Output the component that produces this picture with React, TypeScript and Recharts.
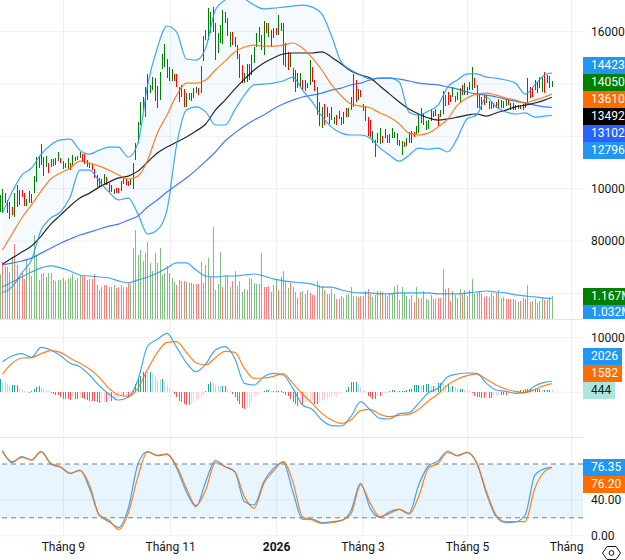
import React from "react";
import { ComposedChart, Bar, Line, Area, Cell, XAxis, YAxis, CartesianGrid, ReferenceArea, ReferenceLine } from "recharts";

// Prices are in thousands, volumes in millions.
const highs = [
  97.6,99.9,98.3,95.7,94.9,93.0,98.3,101.4,99.5,99.5,
  98.3,96.0,99.1,97.9,104.8,112.1,112.1,117.0,112.1,112.5,
  109.8,111.3,111.3,111.7,114.0,111.7,110.5,109.8,111.7,109.8,
  112.8,112.1,112.5,114.0,113.2,113.2,110.9,109.8,109.4,107.5,
  105.2,104.1,103.7,105.6,104.4,102.1,101.4,99.9,100.2,100.2,
  102.9,104.1,103.7,102.9,103.7,109.8,117.4,125.4,133.1,135.0,
  138.8,143.8,139.6,142.6,142.2,139.2,144.5,151.4,155.2,149.5,
  146.4,145.7,143.8,143.8,138.8,139.6,138.0,136.5,136.5,136.5,
  138.4,138.8,138.4,146.8,158.3,160.5,168.9,167.4,169.3,163.2,
  159.4,162.5,168.2,167.4,165.1,159.8,159.8,157.9,154.8,151.4,
  147.2,144.1,147.6,147.6,151.0,154.1,159.4,161.7,158.6,164.0,
  163.2,163.2,160.5,161.3,161.3,166.3,163.2,163.2,155.6,152.2,
  151.8,146.0,145.3,144.1,144.1,141.5,141.5,140.3,149.1,146.4,
  141.5,138.8,133.1,131.2,132.3,131.2,128.9,131.2,127.3,128.1,
  129.6,127.3,129.2,130.8,130.8,135.0,143.8,141.5,138.0,137.6,
  132.3,131.5,127.3,126.2,122.0,118.6,121.2,123.1,120.1,122.8,
  120.5,120.9,123.1,121.6,121.2,118.6,118.2,117.8,119.3,121.6,
  122.0,121.6,123.9,128.5,130.8,128.9,125.8,126.2,130.4,129.6,
  130.4,128.5,130.0,137.3,135.7,136.9,135.7,138.8,135.4,136.9,
  138.4,139.6,140.3,138.8,140.7,146.4,142.2,139.6,135.7,135.0,
  135.7,135.7,133.4,133.1,132.7,133.1,134.2,133.8,133.4,134.2,
  133.8,132.7,132.7,131.9,131.9,131.9,132.3,133.1,142.2,138.8,
  138.4,141.5,140.7,142.6,142.6,144.5,143.4,143.0,141.1,
];
const lows = [
  91.1,90.7,94.5,90.7,88.4,89.9,89.2,93.0,93.8,96.8,
  93.4,93.4,94.5,94.5,98.3,102.5,107.9,109.0,104.8,108.3,
  106.0,108.3,108.6,109.0,110.5,109.8,107.5,107.9,107.5,107.1,
  109.0,110.5,110.9,111.7,110.2,109.4,108.3,107.9,107.1,104.1,
  100.6,100.6,101.0,101.4,101.4,98.7,98.7,97.9,98.3,98.3,
  99.1,101.8,101.4,101.0,101.4,99.9,110.9,117.4,124.3,130.0,
  127.3,133.8,136.5,137.6,133.4,130.8,133.8,145.7,146.4,142.2,
  141.1,141.1,141.1,138.8,133.1,135.0,131.2,131.2,133.8,133.4,
  134.6,136.5,135.7,136.5,148.7,156.7,156.7,159.4,159.8,149.1,
  151.8,155.6,155.2,163.2,158.3,154.1,154.8,154.1,149.5,142.2,
  140.3,140.3,140.7,141.5,143.4,148.0,154.1,156.0,152.9,151.0,
  159.4,157.9,154.1,157.5,158.6,158.6,160.2,147.2,146.4,145.3,
  146.4,140.7,136.9,138.4,138.8,137.6,137.3,138.4,139.6,140.7,
  137.3,128.1,123.9,123.1,124.3,127.3,124.7,126.2,124.7,124.3,
  126.6,124.3,124.7,127.3,127.3,130.0,131.2,133.1,133.8,135.0,
  129.6,125.8,120.1,119.7,117.4,112.1,117.4,117.0,117.4,119.3,
  117.4,117.4,119.3,119.3,116.7,116.3,112.8,115.9,116.3,117.4,
  117.4,119.7,120.9,121.2,125.1,124.3,122.4,122.8,125.8,127.3,
  127.7,123.9,127.3,128.5,131.5,131.9,133.1,135.0,133.1,133.8,
  132.7,135.7,135.7,135.7,137.6,137.6,138.4,130.8,130.8,130.0,
  131.9,132.7,130.4,130.4,130.8,130.8,130.8,130.8,130.8,131.5,
  131.9,130.0,130.0,130.0,130.4,130.4,130.0,130.8,132.7,134.6,
  135.0,137.6,136.5,138.4,136.9,136.5,140.3,138.4,138.8,
];
const candleDirection =
  "GGRGGRGGGR" + "RGGGGGRGRG" + "RGGGGRRRGR" + "GRGGRRRRRR" + "RRGGRRRGRR" +
  "GRRRGGGGGG" + "RGGGRRGGGR" + "RGRRRRRGGG" + "GGRGGGGGRR" + "GGGGRGRRRR" +
  "RGGRGGGGGG" + "RGRGRGRRRR" + "GRRGGRGRGR" + "RRRGRGRGGR" + "RGGRGGGRGR" +
  "RRRRGRGGRG" + "RGGGRRGRGG" + "GRGGRGGGGG" + "GRGGGRRGRR" + "GRGRGGRRGG" +
  "RGGRRRGGRG" + "RGRRGRGGGR" + "RGRGGRGRG";

const volumes = [
  2.28,2.91,2.69,2.65,2.40,3.13,3.80,2.74,2.06,2.32,
  2.01,3.03,2.57,2.20,4.26,3.24,1.98,2.28,2.32,2.11,
  2.32,2.32,1.98,1.94,1.98,1.98,2.06,1.94,2.03,2.06,
  2.28,1.98,2.06,2.23,2.20,2.18,1.98,2.03,2.03,2.28,
  1.72,1.47,1.64,1.72,1.72,1.61,1.64,1.72,1.55,1.64,
  1.72,1.61,1.64,1.81,1.77,3.62,4.51,3.24,3.50,2.96,
  3.36,3.92,2.82,2.45,3.33,2.86,3.58,2.23,2.32,2.69,
  2.32,2.06,1.89,1.72,1.98,1.94,1.94,1.86,1.81,1.84,
  1.76,1.76,1.77,2.87,1.84,2.74,3.08,2.15,4.68,1.47,
  1.77,3.38,1.64,2.23,2.23,1.64,1.94,2.43,1.67,1.94,
  1.39,1.52,1.47,2.08,2.03,1.83,1.77,1.77,3.35,1.62,
  1.62,1.67,1.37,1.72,2.03,1.47,2.13,2.43,1.93,1.57,
  1.83,1.62,1.37,1.06,1.37,1.42,1.27,1.47,1.30,1.22,
  1.22,1.93,1.72,1.67,1.47,1.27,1.27,1.52,1.27,1.01,
  1.01,1.17,1.06,1.22,1.27,1.62,1.17,1.17,1.12,1.17,
  1.17,1.42,1.52,1.27,1.12,1.20,1.42,1.42,1.37,1.22,
  1.17,1.27,1.27,1.67,1.72,0.96,1.62,1.32,1.17,1.01,
  1.22,0.86,1.62,1.06,1.06,1.42,1.01,0.96,1.23,1.03,
  1.03,1.06,1.08,2.54,1.52,1.57,0.91,1.42,1.22,1.06,
  1.52,1.27,1.47,1.17,1.47,2.03,1.27,1.32,1.42,1.27,
  1.12,1.17,1.12,1.34,1.17,1.30,1.47,1.06,1.12,1.01,
  1.01,1.01,1.01,0.95,0.88,0.91,1.06,1.01,1.72,0.86,
  0.91,1.01,0.81,0.91,1.08,0.96,0.96,1.12,1.167,
];
const volumeDirection =
  "GRGGRGRGRR" + "RGRGGGRRRG" + "GRGRGGRGGG" + "GRGGRRRRRR" + "RGGRRRRGRR" +
  "GRRRGGGGGG" + "GGGGRRGGGR" + "RGGRRRRGGG" + "RRRGRGGRRG" + "GGRRGGRRRG" +
  "GGRGGGGRGR" + "RRGGGRRRGG" + "RRGGRGGGRR" + "RRRGRRRGGR" + "RGGGGGRGRR" +
  "RRRGGGGGRG" + "RGGGRRGGGG" + "GRGRRRGGGR" + "RRRGGRRGRR" + "GRGGGGGRRG" +
  "RRRGRRGRGR" + "RRRRGRGGGR" + "GGRGGRRRG";

const macdHist = [
  2440,1950,1830,1525,1220,1340,1340,1340,730,610,
  305,120,-185,305,610,915,1220,915,610,430,
  185,-185,-305,-430,-490,-915,-1220,-1220,-1220,-1340,
  -915,-1220,-1220,-915,-1100,-1220,-1340,-1525,-1525,-1650,
  -1830,-1950,-1830,-1710,-1710,-1525,-1525,-1340,-1100,-915,
  -730,-730,-610,-610,-490,185,1525,2440,3050,3660,
  3780,3660,3660,3540,3050,2320,2255,2440,1830,1340,
  730,185,-305,-915,-1525,-1830,-2135,-2320,-2320,-2135,
  -1830,-1525,-1220,-915,-490,185,1525,1950,1710,1340,
  1220,1100,1100,1220,610,185,-305,-915,-1525,-2135,
  -2930,-3050,-2930,-2440,-1830,-915,-490,-305,-185,305,
  490,490,305,305,305,305,305,-185,-490,-730,
  -1220,-1710,-2135,-2440,-2135,-2320,-1830,-1710,-1525,-1340,
  -2135,-2135,-1710,-1525,-1340,-1220,-1100,-915,-730,-610,
  -305,-120,120,490,915,1830,1950,1950,1525,915,
  490,185,-610,-915,-1220,-1220,-610,-610,-490,-305,
  -120,305,430,430,185,185,185,185,490,610,
  610,1340,1340,1340,1220,1340,1525,1525,1220,1220,
  1100,1710,1710,1525,1340,1525,915,1100,915,610,
  610,610,490,365,305,-185,-610,-915,-915,-1100,
  -1100,-915,-1100,-1100,-915,-610,-490,-490,-490,-490,
  -305,-185,-120,120,305,490,490,610,610,610,
  490,610,610,610,490,490,490,490,444,
];

// Line series sampled every fourth session (bar 1, 5, 9 ... 225) plus the last session.
const bbUpper = [90.7,98.7,105.2,107.9,113.2,116.7,118.6,118.9,114.7,113.2,114.7,115.9,115.9,112.1,117.4,139.6,153.7,162.1,159.8,149.5,149.1,153.7,168.2,172.0,173.5,172.4,170.1,168.6,168.9,169.3,169.7,170.1,169.3,166.7,158.3,148.3,145.3,143.4,141.8,142.2,142.2,140.7,129.2,128.1,129.6,131.9,138.8,141.5,143.8,143.8,142.6,142.2,141.5,140.3,136.1,139.6,143.4,144.2];
const bbLower = [60.2,62.5,67.8,72.8,84.2,88.8,91.1,96.8,107.1,107.1,102.9,98.7,95.7,96.4,90.3,82.7,84.2,91.8,116.7,130.0,131.2,129.3,124.3,124.3,130.0,135.7,139.6,139.9,140.3,141.1,142.6,137.6,133.1,127.7,123.5,121.2,120.5,120.5,119.3,115.5,112.8,110.5,112.8,115.5,115.1,115.5,114.0,119.3,126.6,128.1,135.0,131.2,129.3,128.5,128.9,127.3,127.7,128.0];
const maOrange = [76.6,82.7,88.8,93.8,99.1,103.7,106.0,107.9,110.5,109.8,108.6,107.1,105.2,103.7,104.8,110.9,121.2,128.1,135.7,140.3,140.3,141.5,145.3,148.7,152.2,154.1,154.8,154.4,154.4,154.8,155.6,153.7,149.9,145.3,139.6,135.4,132.3,131.5,130.8,128.9,127.3,124.7,121.2,120.5,121.2,123.5,126.6,131.9,134.6,136.1,136.5,135.7,134.6,133.8,132.7,133.8,135.0,136.1];
const maBlack = [71.2,73.5,75.8,78.1,81.9,86.5,89.9,93.4,96.4,98.3,100.6,102.5,104.1,104.8,106.7,110.2,113.6,115.9,117.8,119.7,122.0,124.7,130.0,133.8,138.0,141.8,145.3,148.0,149.9,151.4,151.8,151.8,151.8,152.2,150.2,147.6,144.9,143.4,142.2,139.2,136.1,133.1,130.4,128.5,127.0,126.2,126.6,127.3,128.1,128.5,127.7,128.9,130.0,131.2,131.9,132.7,133.8,134.9];
const maBlue = [70.9,71.6,72.4,73.5,75.4,77.3,79.2,80.8,82.3,83.4,84.6,85.7,86.5,88.0,89.6,93.0,95.7,98.7,101.4,104.1,107.1,110.5,114.0,118.2,121.2,123.9,126.2,128.1,130.4,132.3,133.8,135.0,135.7,136.5,137.6,138.4,139.6,140.3,141.5,142.2,142.2,141.8,141.1,140.3,139.9,139.6,138.8,138.0,136.9,136.1,135.7,135.0,134.2,133.4,132.7,131.9,131.2,131.0];
const volumeMa = [1.62,1.88,2.13,2.38,2.59,2.69,2.59,2.43,2.23,2.18,2.13,2.08,1.93,1.83,1.98,2.13,2.33,2.59,2.84,2.84,2.48,2.18,2.13,2.18,2.18,2.23,2.28,2.18,2.03,1.93,1.88,1.83,1.77,1.62,1.62,1.47,1.37,1.32,1.32,1.27,1.27,1.32,1.32,1.32,1.32,1.27,1.27,1.27,1.32,1.37,1.42,1.37,1.32,1.22,1.17,1.12,1.06,1.032];
const macdLine = [5606,6643,7070,6399,8229,7741,6704,5301,4691,3166,1214,-311,-1409,-921,2251,8473,9693,10791,8229,5423,3776,5179,7741,8351,6216,1641,1336,2861,3471,3166,726,-2324,-3117,-5069,-6106,-6167,-4459,-1714,-3239,-4764,-4886,-3910,-3727,-2019,-67,726,2861,3349,3532,3471,1641,421,177,-189,-67,1153,1824,2026];
const macdSignal = [3288,5301,6277,6338,7070,7619,7314,6216,5301,4264,2739,726,-494,-738,726,4203,7253,9144,9266,7314,5423,4996,6338,7497,7314,4386,2556,2617,2922,3410,1641,-311,-2019,-3849,-5069,-5679,-5069,-3361,-3117,-4032,-4459,-4215,-4032,-3117,-1592,-311,1336,2373,3044,3349,2373,1336,604,116,-67,543,1214,1582];
const stochK = [94.9,81.5,88.2,84.5,93.8,80.0,76.3,69.6,73.3,52.9,23.1,15.7,9.3,30.5,80.0,93.8,89.3,91.2,75.2,49.1,32.4,60.3,83.7,77.0,71.5,38.0,34.3,60.3,75.2,81.9,49.1,18.3,18.6,14.5,15.7,16.8,27.9,58.4,30.5,20.5,26.8,29.4,25.0,56.6,77.8,83.4,94.5,88.9,93.0,80.8,47.3,21.2,14.5,15.3,23.1,67.7,74.8,76.35];
const stochD = [93.8,82.6,87.5,84.5,93.8,80.8,77.0,69.6,72.6,56.6,23.1,17.5,7.1,25.0,65.9,93.8,89.7,90.8,77.8,52.9,33.5,51.0,81.5,77.0,71.5,43.6,30.5,58.4,72.2,82.6,60.3,21.2,17.5,13.8,14.5,17.1,24.2,56.6,36.1,21.2,25.0,29.4,24.2,43.6,75.2,80.8,92.7,89.7,93.0,81.5,49.1,23.1,15.7,15.7,15.7,52.9,71.5,76.2];

const monthTicks = [26.2, 70.5, 114.3, 150, 193.2, 236.2];
const monthLabels = ["Tháng 9", "Tháng 11", "2026", "Tháng 3", "Tháng 5", "Tháng"];
const priceTicks = [160, 140, 120, 100, 80, 60];
const macdTicks = [10000, 0];
const stochTicks = [40, 0];
const priceTagLabels = ["144232", "140500", "136100", "134928", "131020", "127967"];
const priceTagColors = ["#2196f3", "#008000", "#ff6d00", "#000000", "#2962ff", "#2196f3"];
const volumeTagLabels = ["1.167M", "1.032M"];
const volumeTagColors = ["#008000", "#2196f3"];

const GREEN = "#008000";
const RED = "#ff0000";
const BLUE = "#2196f3";
const ORANGE = "#ff6d00";
const GRID = "rgba(42,46,87,0.07)";
const TEXT = "#131722";
const FONT = "Roboto, sans-serif";
const X_DOMAIN: [number, number] = [0, 240.9];

const bars = highs.map((h, i) => ({
  i,
  range: [lows[i], h],
  volume: volumes[i],
  hist: macdHist[i],
}));
const sampleIndex = (k: number, n: number) => (k === n - 1 ? highs.length - 1 : 1 + 4 * k);
const lineRows = (values: number[]) => values.map((v, k) => ({ i: sampleIndex(k, values.length), v }));
const bandRows = bbUpper.map((u, k) => ({ i: sampleIndex(k, bbUpper.length), band: [bbLower[k], u] }));

const histColor = (i: number) => {
  const v = macdHist[i];
  const prev = i > 0 ? macdHist[i - 1] : 0;
  if (v >= 0) return v >= prev ? "#26a69a" : "#b2dfdb";
  return v <= prev ? "#ff5252" : "#ffcdd2";
};

const axisTick = { fill: TEXT, fontSize: 12, fontFamily: FONT };

const MonthTick = (props: any) => {
  const { x, y, payload } = props;
  const idx = monthTicks.indexOf(payload.value);
  const label = monthLabels[idx] ?? "";
  return (
    <text
      x={idx === monthLabels.length - 1 ? x - 5 : x}
      y={y + 4}
      textAnchor="middle"
      dominantBaseline="middle"
      fontFamily={FONT}
      fontSize={12}
      fontWeight={label === "2026" ? 700 : 400}
      fill={TEXT}
    >
      {label}
    </text>
  );
};

const Tag = ({ top, label, color, width = 42, text = "#fff", height = 17 }: any) => (
  <div
    style={{
      position: "absolute",
      left: 583,
      top,
      width,
      height,
      background: color,
      color: text,
      font: `12px ${FONT}`,
      lineHeight: `${height}px`,
      paddingLeft: 8,
      boxSizing: "border-box",
      whiteSpace: "nowrap",
      overflow: "hidden",
    }}
  >
    {label}
  </div>
);

const series = (values: number[], color: string, width = 1.2, opacity = 0.85) => (
  <Line
    data={lineRows(values)}
    dataKey="v"
    type="monotone"
    stroke={color}
    strokeWidth={width}
    strokeOpacity={opacity}
    dot={false}
    activeDot={false}
    isAnimationActive={false}
    legendType="none"
  />
);

export default function App() {
  const layer = (top: number): React.CSSProperties => ({ position: "absolute", left: 0, top });
  return (
    <div style={{ position: "absolute", left: 0, top: 0, width: 625, height: 560, overflow: "hidden", background: "#fff", fontFamily: FONT }}>
      {/* Volume layer */}
      <div style={layer(0)}>
        <ComposedChart width={625} height={319} data={bars} margin={{ top: 0, right: 42, bottom: 0, left: 0 }}>
          <XAxis dataKey="i" type="number" domain={X_DOMAIN} allowDataOverflow hide />
          <YAxis type="number" domain={[0, 16.17]} allowDataOverflow hide />
          <Bar dataKey="volume" barSize={1} shapeRendering="crispEdges" isAnimationActive={false}>
            {bars.map((b) => (
              <Cell key={b.i} fill={volumeDirection[b.i] === "G" ? GREEN : RED} fillOpacity={0.5} />
            ))}
          </Bar>
          {series(volumeMa, BLUE)}
        </ComposedChart>
      </div>

      {/* Price layer */}
      <div style={layer(0)}>
        <ComposedChart width={625} height={319} data={bars} margin={{ top: 0, right: 0, bottom: 0, left: 0 }}>
          <CartesianGrid stroke={GRID} horizontalValues={priceTicks} verticalValues={monthTicks} />
          <XAxis dataKey="i" type="number" domain={X_DOMAIN} allowDataOverflow hide />
          <YAxis
            orientation="right"
            type="number"
            width={42}
            domain={[50.26, 172.02]}
            allowDataOverflow
            ticks={priceTicks}
            interval={0}
            axisLine={false}
            tickLine={false}
            tickSize={0}
            tickMargin={8}
            tick={axisTick}
            tickFormatter={(v: number) => String(v * 1000)}
          />
          <Area data={bandRows} dataKey="band" type="monotone" stroke="none" fill={BLUE} fillOpacity={0.05} isAnimationActive={false} dot={false} activeDot={false} legendType="none" />
          <Bar dataKey="range" barSize={1} shapeRendering="crispEdges" isAnimationActive={false}>
            {bars.map((b) => (
              <Cell key={b.i} fill={candleDirection[b.i] === "G" ? GREEN : RED} />
            ))}
          </Bar>
          {series(maBlue, "#2962ff")}
          {series(maBlack, "#000000")}
          {series(maOrange, ORANGE)}
          {series(bbUpper, BLUE)}
          {series(bbLower, BLUE)}
        </ComposedChart>
      </div>
      <div style={{ position: "absolute", left: 0, top: 319, width: 583, height: 1, background: "#e0e3eb" }} />

      {/* MACD */}
      <div style={layer(320)}>
        <ComposedChart width={625} height={117} data={bars} margin={{ top: 0, right: 0, bottom: 0, left: 0 }}>
          <CartesianGrid stroke={GRID} horizontalValues={macdTicks} verticalValues={monthTicks} />
          <XAxis dataKey="i" type="number" domain={X_DOMAIN} allowDataOverflow hide />
          <YAxis
            orientation="right"
            type="number"
            width={42}
            domain={[-8180, 13231]}
            allowDataOverflow
            ticks={macdTicks}
            interval={0}
            axisLine={false}
            tickLine={false}
            tickSize={0}
            tickMargin={8}
            tick={axisTick}
          />
          <Bar dataKey="hist" barSize={1} shapeRendering="crispEdges" isAnimationActive={false}>
            {bars.map((b) => (
              <Cell key={b.i} fill={histColor(b.i)} />
            ))}
          </Bar>
          {series(macdLine, BLUE)}
          {series(macdSignal, ORANGE)}
        </ComposedChart>
      </div>
      <div style={{ position: "absolute", left: 0, top: 437, width: 583, height: 1, background: "#e0e3eb" }} />

      {/* Stochastic and time axis */}
      <div style={layer(438)}>
        <ComposedChart width={625} height={122} data={bars} margin={{ top: 0, right: 0, bottom: 0, left: 0 }}>
          <CartesianGrid stroke={GRID} horizontalValues={stochTicks} verticalValues={monthTicks} />
          <XAxis
            dataKey="i"
            type="number"
            domain={X_DOMAIN}
            allowDataOverflow
            ticks={monthTicks}
            interval={0}
            height={24}
            axisLine={false}
            tickLine={false}
            tick={<MonthTick />}
          />
          <YAxis
            orientation="right"
            type="number"
            width={42}
            domain={[-0.3, 109]}
            allowDataOverflow
            ticks={stochTicks}
            interval={0}
            axisLine={false}
            tickLine={false}
            tickSize={0}
            tickMargin={8}
            tick={axisTick}
            tickFormatter={(v: number) => v.toFixed(2)}
          />
          <ReferenceArea y1={20} y2={80} fill={BLUE} fillOpacity={0.1} stroke="none" />
          <ReferenceLine y={80} stroke="#787b86" strokeDasharray="5 4" />
          <ReferenceLine y={20} stroke="#787b86" strokeDasharray="5 4" />
          {series(stochK, BLUE)}
          {series(stochD, ORANGE)}
        </ComposedChart>
      </div>

      {/* Last-value tags */}
      {priceTagLabels.map((label, k) => (
        <Tag key={label} top={57 + 17 * k} label={label} color={priceTagColors[k]} />
      ))}
      {volumeTagLabels.map((label, k) => (
        <Tag key={label} top={288 + 17 * k} label={label} color={volumeTagColors[k]} height={k === 0 ? 17 : 14} />
      ))}
      <Tag top={348} label="2026" color={BLUE} width={39} />
      <Tag top={365} label="1582" color={ORANGE} width={39} />
      <Tag top={382} label="444" color="#ace5dc" text={TEXT} width={32} />
      <Tag top={459} label="76.35" color={BLUE} />
      <Tag top={476} label="76.20" color={ORANGE} />

      {/* Settings glyph */}
      <svg style={{ position: "absolute", left: 601, top: 543 }} width={21} height={20} viewBox="0 0 21 20">
        <polygon points="6,3.5 15,3.5 19.5,10 15,16.5 6,16.5 1.5,10" fill="none" stroke={TEXT} strokeWidth={1} />
        <circle cx={10.5} cy={10} r={2.4} fill="none" stroke={TEXT} strokeWidth={1} />
      </svg>
    </div>
  );
}
